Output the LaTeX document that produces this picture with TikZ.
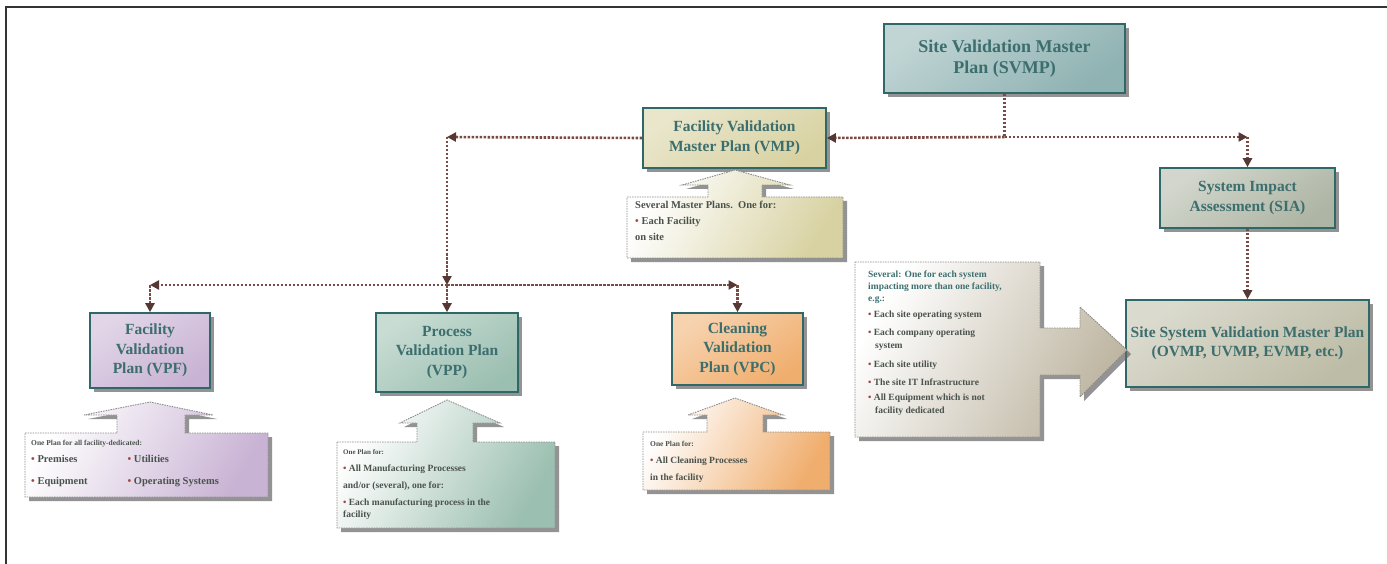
\documentclass[tikz,border=0pt]{standalone}
\usepackage{fontspec}
\setmainfont{Liberation Serif}
\usetikzlibrary{arrows.meta,shadows}
\definecolor{tealtxt}{HTML}{3D6E6E}
\definecolor{tealbd}{HTML}{2F6868}
\definecolor{conncol}{HTML}{7A4A44}
\definecolor{tipcol}{HTML}{553833}
\definecolor{calltxt}{HTML}{4A524C}
\definecolor{callhead}{HTML}{3C7070}
\definecolor{bulcol}{HTML}{A04848}
\definecolor{cSVMP}{HTML}{8FB2B2}
\definecolor{cVMP}{HTML}{D8D2A2}
\definecolor{cSIA}{HTML}{AEB5A4}
\definecolor{cSS}{HTML}{BDBCA6}
\definecolor{cVPF}{HTML}{C9B3D4}
\definecolor{cVPP}{HTML}{9BBFB0}
\definecolor{cVPC}{HTML}{F0AE6E}
\definecolor{cRGT}{HTML}{BDB4A0}
\newcommand{\bul}{{\color{bulcol}\textbullet}\ }
\tikzset{
  grad/.style={top color=#1!55, middle color=white, bottom color=#1, shading angle=35},
  cgrad/.style={top color=white, middle color=#1!35, bottom color=#1, shading angle=60},
  mainbox/.style={draw=tealbd, line width=1.6pt, text=tealtxt,
    font=\fontsize{15.5}{19.5}\selectfont\bfseries, align=center, inner sep=2pt,
    drop shadow={shadow xshift=4pt,shadow yshift=-4pt,fill=black!60,opacity=.7}},
  conn/.style={draw=conncol, line width=2.6pt, dash pattern=on 2.5pt off 1.5pt},
  tip/.style={-{Triangle[length=9pt,width=9pt,fill=tipcol,color=tipcol]}},
  callout/.style={draw=black!45, line width=0.9pt, dash pattern=on 1.5pt off 1pt,
    drop shadow={shadow xshift=4pt,shadow yshift=-4pt,fill=black!60,opacity=.7}},
  calltext/.style={anchor=north west, align=left, text=calltxt, inner sep=0pt,
    font=\fontsize{9.5}{17}\selectfont\bfseries},
}
\begin{document}
\begin{tikzpicture}[x=1pt,y=-1pt]
\useasboundingbox (0,0) rectangle (1387,564);
\fill[white] (0,0) rectangle (1387,564);
\draw[line width=2pt, black!80] (6,564) -- (6,7) -- (1387,7);

% main boxes
\node[mainbox, grad=cSVMP, minimum width=241pt, minimum height=69pt,
  font=\fontsize{18}{21}\selectfont\bfseries] (svmp) at (1004.5,58.5)
  {Site Validation Master\\Plan (SVMP)};
\node[mainbox, grad=cVMP, minimum width=183pt, minimum height=60pt] (vmp) at (734.5,138)
  {Facility Validation\\Master Plan (VMP)};
\node[mainbox, grad=cSIA, minimum width=175pt, minimum height=60pt] (sia) at (1247.5,198)
  {System Impact\\Assessment (SIA)};
\node[mainbox, grad=cSS, minimum width=243pt, minimum height=87pt, inner sep=0pt] (ssvmp) at (1247.5,343.5)
  {Site System Validation Master Plan\\(OVMP, UVMP, EVMP, etc.)};
\node[mainbox, grad=cVPF, minimum width=120pt, minimum height=75pt] (vpf) at (150,350.5)
  {Facility\\Validation\\Plan (VPF)};
\node[mainbox, grad=cVPP, minimum width=142pt, minimum height=79pt] (vpp) at (447,352.5)
  {Process\\Validation Plan\\(VPP)};
\node[mainbox, grad=cVPC, minimum width=131pt, minimum height=72pt] (vpc) at (737.5,349)
  {Cleaning\\Validation\\Plan (VPC)};

% callouts
\path[callout, cgrad=cVMP] (627,197) -- (708,197) -- (708,185) -- (682,185) -- (735,170)
  -- (790,185) -- (762,185) -- (762,197) -- (843,197) -- (843,258) -- (627,258) -- cycle;
\node[calltext, font=\fontsize{10.5}{16}\selectfont\bfseries] (tvmp) at (635,201)
  {Several Master Plans.\ \ One for:\\\bul Each Facility\\on site};

\path[callout, cgrad=cVPF] (25,433) -- (117,433) -- (117,415) -- (84,415) -- (150,402)
  -- (213,415) -- (185,415) -- (185,433) -- (268,433) -- (268,497) -- (25,497) -- cycle;
\node[calltext, font=\fontsize{10.5}{18}\selectfont\bfseries] (tvpf) at (31,440)
  {{\fontsize{7.5}{16}\selectfont One Plan for all facility-dedicated:}\\[2pt]
   \begin{tabular}{@{}l@{\hspace{40pt}}l@{}}
   \bul Premises & \bul Utilities\\[4pt]
   \bul Equipment & \bul Operating Systems
   \end{tabular}};

\path[callout, cgrad=cVPP] (337,442) -- (417,442) -- (417,423) -- (400,423) -- (447,400)
  -- (500,423) -- (473,423) -- (473,442) -- (555,442) -- (555,528) -- (337,528) -- cycle;
\node[calltext] (tvpp) at (343,449)
  {{\fontsize{7}{17}\selectfont One Plan for:}\\
   \bul All Manufacturing Processes\\
   and/or (several), one for:\\
   \bul Each manufacturing process in the\\[-5pt]
   facility};

\path[callout, cgrad=cVPC] (643,432) -- (707,432) -- (707,415) -- (688,415) -- (735,398)
  -- (783,415) -- (763,415) -- (763,432) -- (830,432) -- (830,490) -- (643,490) -- cycle;
\node[calltext] (tvpc) at (650,441)
  {{\fontsize{7.5}{17}\selectfont One Plan for:}\\
   \bul All Cleaning Processes\\
   in the facility};

\path[callout, cgrad=cRGT] (855,262) -- (1040,262) -- (1040,328) -- (1080,328) -- (1080,307)
  -- (1127,350) -- (1080,397) -- (1080,375) -- (1040,375) -- (1040,437) -- (855,437) -- cycle;
\node[calltext, font=\fontsize{9.5}{12}\selectfont\bfseries] (trgt) at (868,271)
  {{\color{callhead}Several: One for each system}\\
   {\color{callhead}impacting more than one facility,}\\
   {\color{callhead}e.g.:}\\[4pt]
   \bul Each site operating system\\[6pt]
   \bul Each company operating\\[1pt]
   \hspace*{7pt}system\\[7pt]
   \bul Each site utility\\[6pt]
   \bul The site IT Infrastructure\\[3pt]
   \bul All Equipment which is not\\[1pt]
   \hspace*{7pt}facility dedicated};

% connectors
\coordinate (c2) at (1004.5,137);
\coordinate (c3) at (1247.5,137);
\coordinate (c1) at (447,137);
\coordinate (bus) at (447,285);
\coordinate (bl) at (150,285);
\coordinate (br) at (737.5,285);
\draw[conn] (svmp.south) -- (c2);
\draw[conn,tip] (c2) -- (vmp.east);
\draw[conn,tip] (c2) -- (c3);
\draw[conn,tip] (c3) -- (sia.north);
\draw[conn,tip] (sia.south) -- (ssvmp.north);
\draw[conn,tip] (vmp.west) -- (c1);
\draw[conn,tip] (c1) -- (bus);
\draw[conn,tip] (bus) -- (vpp.north);
\draw[conn,tip] (bus) -- (bl);
\draw[conn,tip] (bl) -- (vpf.north);
\draw[conn,tip] (bus) -- (br);
\draw[conn,tip] (br) -- (vpc.north);
\end{tikzpicture}
\end{document}
